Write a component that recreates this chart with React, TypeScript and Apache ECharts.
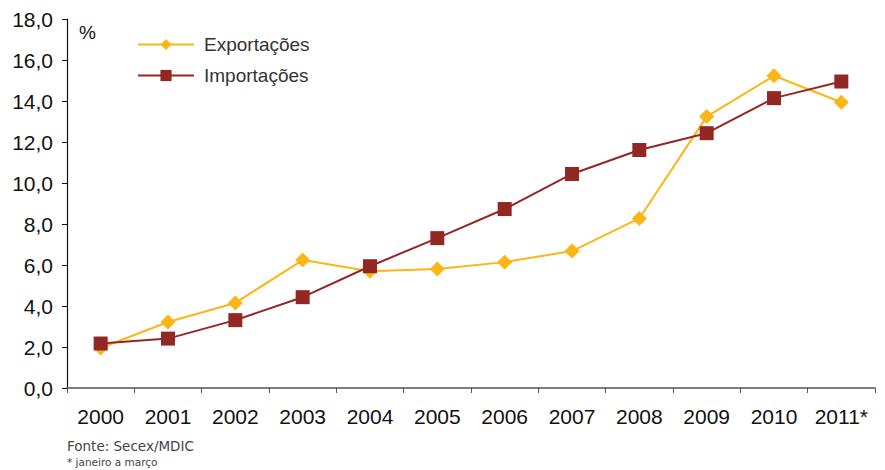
import React, { useEffect, useRef } from "react";
import * as echarts from "echarts";

const categories = ["2000", "2001", "2002", "2003", "2004", "2005", "2006", "2007", "2008", "2009", "2010", "2011*"];
const exportacoes = [1.95, 3.22, 4.15, 6.24, 5.7, 5.8, 6.14, 6.68, 8.27, 13.24, 15.23, 13.94];
const importacoes = [2.17, 2.41, 3.31, 4.43, 5.94, 7.31, 8.73, 10.44, 11.61, 12.43, 14.14, 14.95];

const YELLOW = "#FBB515";
const RED = "#932724";
const FONT = "Liberation Sans, Arial, sans-serif";

export default function App() {
  const ref = useRef<HTMLDivElement>(null);
  useEffect(() => {
    if (!ref.current) return;
    const chart = echarts.init(ref.current, undefined, { renderer: "svg" });
    chart.setOption({
      animation: false,
      backgroundColor: "#ffffff",
      textStyle: { fontFamily: FONT },
      grid: { left: 67, right: 10, top: 19, bottom: 82 },
      legend: {
        orient: "vertical",
        left: 132,
        top: 30,
        itemWidth: 56,
        itemHeight: 14,
        itemGap: 12,
        textStyle: { fontSize: 19, color: "#333", fontFamily: FONT, padding: [0, 0, 0, 5] },
        data: ["Exportações", "Importações"],
      },
      xAxis: {
        type: "category",
        data: categories,
        boundaryGap: true,
        axisLine: { lineStyle: { color: "#555", width: 1.5 } },
        axisTick: { show: true, length: 5, interval: 0, lineStyle: { color: "#555" } },
        axisLabel: { fontSize: 21, color: "#111", margin: 18, interval: 0 },
        splitLine: { show: false },
      },
      yAxis: {
        type: "value",
        min: 0,
        max: 18,
        interval: 2,
        axisLine: { show: true, lineStyle: { color: "#111", width: 1.2 } },
        axisTick: { show: true, length: 5, lineStyle: { color: "#111" } },
        axisLabel: {
          fontSize: 21,
          color: "#111",
          margin: 14,
          formatter: (v: number) => v.toFixed(1).replace(".", ","),
        },
        splitLine: { show: false },
      },
      graphic: [
        {
          type: "text",
          left: 79,
          top: 23,
          style: { text: "%", fontSize: 19, fill: "#111", fontFamily: FONT },
        },
        {
          type: "text",
          left: 67,
          top: 439,
          style: { text: "Fonte: Secex/MDIC", fontSize: 13.5, fill: "#444", fontFamily: "DejaVu Sans, sans-serif" },
        },
        {
          type: "text",
          left: 67,
          top: 456,
          style: { text: "* janeiro a março", fontSize: 10.5, fill: "#444", fontFamily: "DejaVu Sans, sans-serif" },
        },
      ],
      series: [
        {
          name: "Exportações",
          type: "line",
          data: exportacoes,
          symbol: "diamond",
          symbolSize: 15,
          lineStyle: { color: YELLOW, width: 2 },
          itemStyle: { color: YELLOW },
          z: 2,
        },
        {
          name: "Importações",
          type: "line",
          data: importacoes,
          symbol: "rect",
          symbolSize: 14,
          lineStyle: { color: RED, width: 2 },
          itemStyle: { color: RED },
          z: 3,
        },
      ],
    });
    return () => chart.dispose();
  }, []);
  return <div ref={ref} style={{ width: 885, height: 470, position: "absolute", left: 0, top: 0 }} />;
}
